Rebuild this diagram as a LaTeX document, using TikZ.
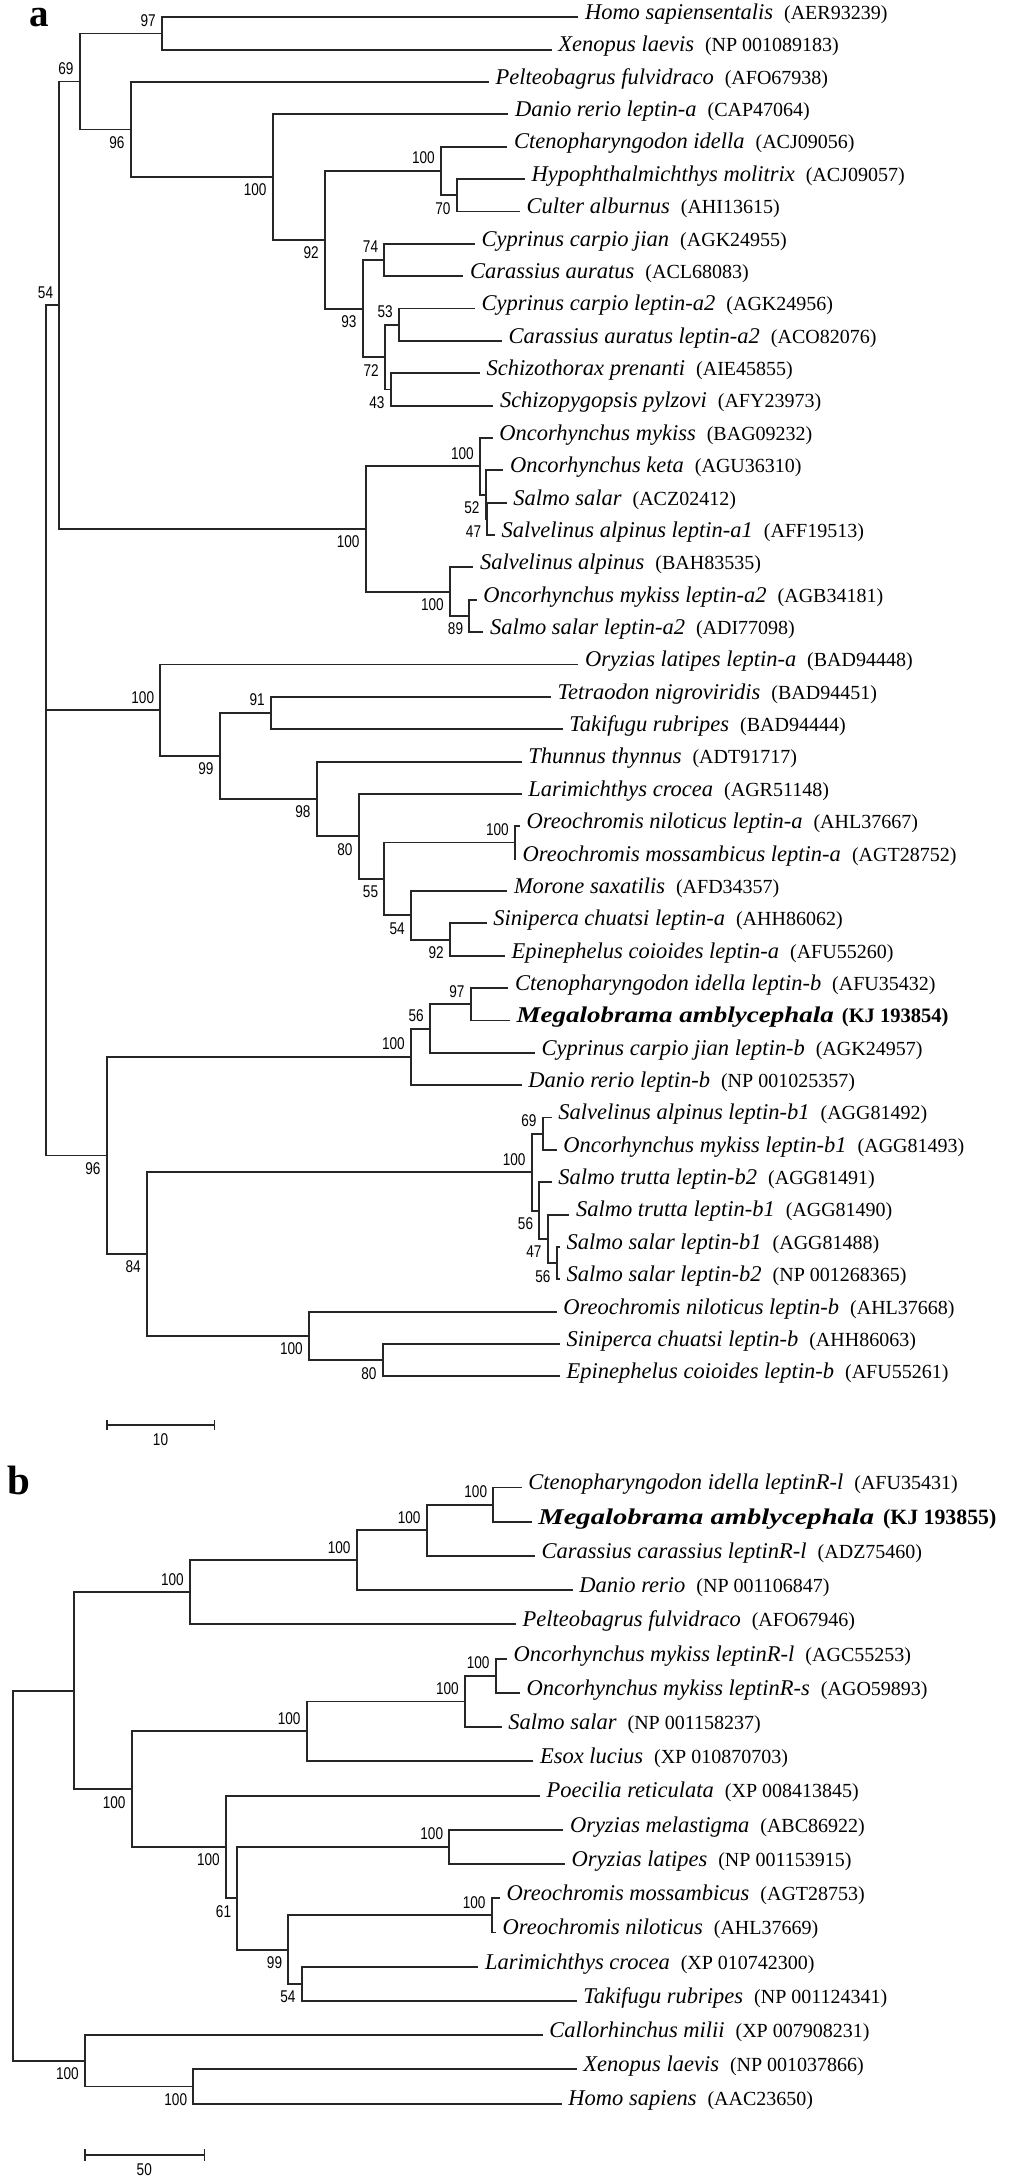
\documentclass[tikz,border=0pt]{standalone}
\usepackage{fontspec}
\usepackage{graphicx}
\setmainfont{Liberation Serif}
\newfontfamily\bsfont{Liberation Sans}
\newcommand\accfont{\fontsize{20}{24}\selectfont\upshape}
\tikzset{
  br/.style={line width=1.9pt, black!85},
  leaflab/.style={anchor=mid west, inner sep=0pt, font=\fontsize{22.5}{27}\selectfont},
  bslab/.style={anchor=east, inner sep=0pt, font=\bsfont\fontsize{17}{19}\selectfont},
  panel/.style={inner sep=0pt, font=\fontsize{39}{42}\selectfont\bfseries},
}
\newcommand\mkleaf[5]{\coordinate (#1) at (#2,#3);
  \node[leaflab] (t#1) at ([xshift=6.5pt]#1) {\textit{#4}\hspace{11pt}{\accfont(#5)}};}
\newcommand\mkint[3]{\coordinate (#1) at (#2,#3);}
\newcommand\conn[2]{\draw[br] (#1) |- (#2);}
\newcommand\bsa[2]{\node[bslab] (l#1) at ([shift={(-6,-13)}]#1) {\scalebox{0.8}[1]{#2}};}
\newcommand\bsb[2]{\node[bslab] (l#1) at ([shift={(-6,13)}]#1) {\scalebox{0.8}[1]{#2}};}
\begin{document}
\begin{tikzpicture}[x=1pt,y=-1pt]
\fill[white] (0,0) rectangle (1024,2181);
\useasboundingbox (0,0) rectangle (1024,2181);
% ---------------- panel a ----------------
\node[panel] (pa) at (38.8,17.5) {a};
\mkleaf{L0}{578.3}{17.3}{Homo sapiensentalis}{AER93239}
\mkleaf{L1}{551.7}{49.7}{Xenopus laevis}{NP 001089183}
\mkleaf{L2}{489}{82.0}{Pelteobagrus fulvidraco}{AFO67938}
\mkleaf{L3}{508.3}{114.4}{Danio rerio leptin-a}{CAP47064}
\mkleaf{L4}{507.3}{146.7}{Ctenopharyngodon idella}{ACJ09056}
\mkleaf{L5}{525}{179.1}{Hypophthalmichthys molitrix}{ACJ09057}
\mkleaf{L6}{520}{211.5}{Culter alburnus}{AHI13615}
\mkleaf{L7}{475}{243.8}{Cyprinus carpio jian}{AGK24955}
\mkleaf{L8}{463.3}{276.2}{Carassius auratus}{ACL68083}
\mkleaf{L9}{475}{308.5}{Cyprinus carpio leptin-a2}{AGK24956}
\mkleaf{L10}{502}{340.9}{Carassius auratus leptin-a2}{ACO82076}
\mkleaf{L11}{480}{373.3}{Schizothorax prenanti}{AIE45855}
\mkleaf{L12}{493.3}{405.6}{Schizopygopsis pylzovi}{AFY23973}
\mkleaf{L13}{492.7}{438.0}{Oncorhynchus mykiss}{BAG09232}
\mkleaf{L14}{503.3}{470.3}{Oncorhynchus keta}{AGU36310}
\mkleaf{L15}{506.7}{502.7}{Salmo salar}{ACZ02412}
\mkleaf{L16}{495}{535.1}{Salvelinus alpinus leptin-a1}{AFF19513}
\mkleaf{L17}{473.3}{567.4}{Salvelinus alpinus}{BAH83535}
\mkleaf{L18}{476.7}{599.8}{Oncorhynchus mykiss leptin-a2}{AGB34181}
\mkleaf{L19}{483.3}{632.1}{Salmo salar leptin-a2}{ADI77098}
\mkleaf{L20}{578.3}{664.5}{Oryzias latipes leptin-a}{BAD94448}
\mkleaf{L21}{551}{696.9}{Tetraodon nigroviridis}{BAD94451}
\mkleaf{L22}{562.7}{729.2}{Takifugu rubripes}{BAD94444}
\mkleaf{L23}{521.7}{761.6}{Thunnus thynnus}{ADT91717}
\mkleaf{L24}{521.7}{793.9}{Larimichthys crocea}{AGR51148}
\mkleaf{L25}{520}{826.3}{Oreochromis niloticus leptin-a}{AHL37667}
\mkleaf{L26}{516}{858.7}{Oreochromis mossambicus leptin-a}{AGT28752}
\mkleaf{L27}{507.3}{891.0}{Morone saxatilis}{AFD34357}
\mkleaf{L28}{486.7}{923.4}{Siniperca chuatsi leptin-a}{AHH86062}
\mkleaf{L29}{505}{955.7}{Epinephelus coioides leptin-a}{AFU55260}
\mkleaf{L30}{508.3}{988.1}{Ctenopharyngodon idella leptin-b}{AFU35432}
\coordinate (L31) at (510,1020.5);
\node[leaflab] (tL31) at ([xshift=6.5pt]L31) {\scalebox{1.2}[1]{\bfseries\itshape Megalobrama amblycephala}\hspace{8pt}{\fontsize{20.5}{24}\selectfont\bfseries (KJ 193854)}};
\mkleaf{L32}{535}{1052.8}{Cyprinus carpio jian leptin-b}{AGK24957}
\mkleaf{L33}{521.7}{1085.2}{Danio rerio leptin-b}{NP 001025357}
\mkleaf{L34}{551.7}{1117.5}{Salvelinus alpinus leptin-b1}{AGG81492}
\mkleaf{L35}{556.7}{1149.9}{Oncorhynchus mykiss leptin-b1}{AGG81493}
\mkleaf{L36}{551.7}{1182.3}{Salmo trutta leptin-b2}{AGG81491}
\mkleaf{L37}{569.3}{1214.6}{Salmo trutta leptin-b1}{AGG81490}
\mkleaf{L38}{560}{1247.0}{Salmo salar leptin-b1}{AGG81488}
\mkleaf{L39}{560}{1279.3}{Salmo salar leptin-b2}{NP 001268365}
\mkleaf{L40}{556.7}{1311.7}{Oreochromis niloticus leptin-b}{AHL37668}
\mkleaf{L41}{560}{1344.1}{Siniperca chuatsi leptin-b}{AHH86063}
\mkleaf{L42}{560}{1376.4}{Epinephelus coioides leptin-b}{AFU55261}
% internal nodes a
\mkint{RA}{45.7}{710.25}
\mkint{A54}{59.3}{305.25}
\mkint{A69}{79.7}{81.5}
\mkint{A97}{162}{33.5}
\mkint{A96t}{130.7}{129.55}
\mkint{A100a}{272.7}{177.1}
\mkint{A92}{325}{239.8}
\mkint{A100b}{441}{171.0}
\mkint{A70}{456.7}{195.3}
\mkint{A93}{362.7}{308.55}
\mkint{A74}{384.3}{260.0}
\mkint{A72}{385}{357.1}
\mkint{A53}{399}{324.7}
\mkint{A43}{390.7}{389.45}
\mkint{A100e}{365.7}{529.0}
\mkint{A100c}{480}{466.3}
\mkint{A52}{485.7}{494.6}
\mkint{A47a}{487.3}{518.9}
\mkint{A100d}{450}{591.7}
\mkint{A89}{469.3}{615.95}
\mkint{A100g}{160.3}{710.25}
\mkint{A99}{219.7}{756.0}
\mkint{A91}{271}{713.05}
\mkint{A98}{316.7}{799.0}
\mkint{A80}{358.7}{836.4}
\mkint{A55}{384.3}{878.9}
\mkint{A100f}{515}{842.5}
\mkint{A54b}{411}{915.3}
\mkint{A92b}{450}{939.55}
\mkint{A96b}{106.7}{1155.5}
\mkint{A100h}{411}{1056.9}
\mkint{A56}{430}{1028.55}
\mkint{A97b}{470.7}{1004.3}
\mkint{A84}{147}{1254.1}
\mkint{A100i}{531.7}{1172.15}
\mkint{A69b}{542.7}{1133.7}
\mkint{A56b}{539.3}{1210.6}
\mkint{A47b}{547.7}{1238.9}
\mkint{A56c}{556.7}{1263.15}
\mkint{A100j}{309}{1336.0}
\mkint{A80b}{382.7}{1360.25}
% connectors a
\conn{RA}{A54}\conn{RA}{A100g}\conn{RA}{A96b}
\conn{A54}{A69}\conn{A54}{A100e}
\conn{A69}{A97}\conn{A69}{A96t}
\conn{A97}{L0}\conn{A97}{L1}
\conn{A96t}{L2}\conn{A96t}{A100a}
\conn{A100a}{L3}\conn{A100a}{A92}
\conn{A92}{A100b}\conn{A92}{A93}
\conn{A100b}{L4}\conn{A100b}{A70}
\conn{A70}{L5}\conn{A70}{L6}
\conn{A93}{A74}\conn{A93}{A72}
\conn{A74}{L7}\conn{A74}{L8}
\conn{A72}{A53}\conn{A72}{A43}
\conn{A53}{L9}\conn{A53}{L10}
\conn{A43}{L11}\conn{A43}{L12}
\conn{A100e}{A100c}\conn{A100e}{A100d}
\conn{A100c}{L13}\conn{A100c}{A52}
\conn{A52}{L14}\conn{A52}{A47a}
\conn{A47a}{L15}\conn{A47a}{L16}
\conn{A100d}{L17}\conn{A100d}{A89}
\conn{A89}{L18}\conn{A89}{L19}
\conn{A100g}{L20}\conn{A100g}{A99}
\conn{A99}{A91}\conn{A99}{A98}
\conn{A91}{L21}\conn{A91}{L22}
\conn{A98}{L23}\conn{A98}{A80}
\conn{A80}{L24}\conn{A80}{A55}
\conn{A55}{A100f}\conn{A55}{A54b}
\conn{A100f}{L25}\conn{A100f}{L26}
\conn{A54b}{L27}\conn{A54b}{A92b}
\conn{A92b}{L28}\conn{A92b}{L29}
\conn{A96b}{A100h}\conn{A96b}{A84}
\conn{A100h}{A56}\conn{A100h}{L33}
\conn{A56}{A97b}\conn{A56}{L32}
\conn{A97b}{L30}\conn{A97b}{L31}
\conn{A84}{A100i}\conn{A84}{A100j}
\conn{A100i}{A69b}\conn{A100i}{A56b}
\conn{A69b}{L34}\conn{A69b}{L35}
\conn{A56b}{L36}\conn{A56b}{A47b}
\conn{A47b}{L37}\conn{A47b}{A56c}
\conn{A56c}{L38}\conn{A56c}{L39}
\conn{A100j}{L40}\conn{A100j}{A80b}
\conn{A80b}{L41}\conn{A80b}{L42}
% bootstrap a
\bsa{A54}{54}\bsa{A69}{69}\bsa{A97}{97}\bsb{A96t}{96}\bsb{A100a}{100}
\bsb{A92}{92}\bsa{A100b}{100}\bsb{A70}{70}\bsb{A93}{93}\bsa{A74}{74}
\bsb{A72}{72}\bsa{A53}{53}\bsb{A43}{43}\bsb{A100e}{100}\bsa{A100c}{100}
\bsb{A52}{52}\bsb{A47a}{47}\bsb{A100d}{100}\bsb{A89}{89}\bsa{A100g}{100}
\bsb{A99}{99}\bsa{A91}{91}\bsb{A98}{98}\bsb{A80}{80}\bsb{A55}{55}
\bsa{A100f}{100}\bsb{A54b}{54}\bsb{A92b}{92}\bsb{A96b}{96}\bsa{A100h}{100}
\bsa{A56}{56}\bsa{A97b}{97}\bsb{A84}{84}\bsa{A100i}{100}\bsa{A69b}{69}
\bsb{A56b}{56}\bsb{A47b}{47}\bsb{A56c}{56}\bsb{A100j}{100}\bsb{A80b}{80}
% scale bar a
\coordinate (sa1) at (106.7,1425);
\coordinate (sa2) at (214.3,1425);
\draw[br,line width=1.6pt] (sa1) -- (sa2);
\draw[br,line width=1.6pt] ([yshift=5.3pt]sa1) -- ([yshift=-5.3pt]sa1);
\draw[br,line width=1.6pt] ([yshift=5.3pt]sa2) -- ([yshift=-5.3pt]sa2);
\node[bslab,anchor=center] (lsa) at (160.5,1439.5) {\scalebox{0.8}[1]{10}};
% ---------------- panel b ----------------
\node[panel,font=\fontsize{41}{44}\selectfont\bfseries] (pb) at (18.7,1480) {b};
\mkleaf{b0}{521.7}{1487.5}{Ctenopharyngodon idella leptinR-l}{AFU35431}
\coordinate (b1) at (531.7,1521.7);
\node[leaflab] (tb1) at ([xshift=6.5pt]b1) {\scalebox{1.27}[1]{\bfseries\itshape Megalobrama amblycephala}\hspace{9pt}{\fontsize{21.8}{25}\selectfont\bfseries (KJ 193855)}};
\mkleaf{b2}{535}{1556.0}{Carassius carassius leptinR-l}{ADZ75460}
\mkleaf{b3}{572.7}{1590.2}{Danio rerio}{NP 001106847}
\mkleaf{b4}{516}{1624.4}{Pelteobagrus fulvidraco}{AFO67946}
\mkleaf{b5}{507}{1658.7}{Oncorhynchus mykiss leptinR-l}{AGC55253}
\mkleaf{b6}{520}{1692.9}{Oncorhynchus mykiss leptinR-s}{AGO59893}
\mkleaf{b7}{501.7}{1727.1}{Salmo salar}{NP 001158237}
\mkleaf{b8}{533.3}{1761.3}{Esox lucius}{XP 010870703}
\mkleaf{b9}{540}{1795.6}{Poecilia reticulata}{XP 008413845}
\mkleaf{b10}{563.3}{1829.8}{Oryzias melastigma}{ABC86922}
\mkleaf{b11}{565}{1864.0}{Oryzias latipes}{NP 001153915}
\mkleaf{b12}{500}{1898.3}{Oreochromis mossambicus}{AGT28753}
\mkleaf{b13}{496}{1932.5}{Oreochromis niloticus}{AHL37669}
\mkleaf{b14}{478.3}{1966.7}{Larimichthys crocea}{XP 010742300}
\mkleaf{b15}{576.7}{2001.0}{Takifugu rubripes}{NP 001124341}
\mkleaf{b16}{542.7}{2035.2}{Callorhinchus milii}{XP 007908231}
\mkleaf{b17}{576.7}{2069.4}{Xenopus laevis}{NP 001037866}
\mkleaf{b18}{561.7}{2103.6}{Homo sapiens}{AAC23650}
% internal nodes b
\mkint{RB}{13.3}{1875.8}
\mkint{B100o}{74}{1690.7}
\mkint{B100d}{190}{1592.3}
\mkint{B100c}{356.7}{1560.25}
\mkint{B100b}{426.7}{1530.3}
\mkint{B100a}{493.3}{1504.6}
\mkint{B100n}{131.7}{1789.15}
\mkint{B100g}{306.7}{1731.4}
\mkint{B100f}{465}{1701.45}
\mkint{B100e}{495.7}{1675.8}
\mkint{B100m}{226}{1846.9}
\mkint{B61}{237.3}{1898.25}
\mkint{B100k}{449.3}{1846.9}
\mkint{B99}{288.3}{1949.6}
\mkint{B100l}{491.7}{1915.4}
\mkint{B54}{301.7}{1983.85}
\mkint{B100p}{85}{2060.85}
\mkint{B100q}{193.3}{2086.5}
% connectors b
\conn{RB}{B100o}\conn{RB}{B100p}
\conn{B100o}{B100d}\conn{B100o}{B100n}
\conn{B100d}{B100c}\conn{B100d}{b4}
\conn{B100c}{B100b}\conn{B100c}{b3}
\conn{B100b}{B100a}\conn{B100b}{b2}
\conn{B100a}{b0}\conn{B100a}{b1}
\conn{B100n}{B100g}\conn{B100n}{B100m}
\conn{B100g}{B100f}\conn{B100g}{b8}
\conn{B100f}{B100e}\conn{B100f}{b7}
\conn{B100e}{b5}\conn{B100e}{b6}
\conn{B100m}{b9}\conn{B100m}{B61}
\conn{B61}{B100k}\conn{B61}{B99}
\conn{B100k}{b10}\conn{B100k}{b11}
\conn{B99}{B100l}\conn{B99}{B54}
\conn{B100l}{b12}\conn{B100l}{b13}
\conn{B54}{b14}\conn{B54}{b15}
\conn{B100p}{b16}\conn{B100p}{B100q}
\conn{B100q}{b17}\conn{B100q}{b18}
% bootstrap b
\bsa{B100a}{100}\bsa{B100b}{100}\bsa{B100c}{100}\bsa{B100d}{100}
\bsa{B100e}{100}\bsa{B100f}{100}\bsa{B100g}{100}\bsa{B100k}{100}
\bsa{B100l}{100}\bsb{B54}{54}\bsb{B99}{99}\bsb{B61}{61}\bsb{B100m}{100}
\bsb{B100n}{100}\bsb{B100q}{100}\bsb{B100p}{100}
% scale bar b
\coordinate (sb1) at (85,2155);
\coordinate (sb2) at (204.3,2155);
\draw[br,line width=1.6pt] (sb1) -- (sb2);
\draw[br,line width=1.6pt] ([yshift=6pt]sb1) -- ([yshift=-6pt]sb1);
\draw[br,line width=1.6pt] ([yshift=6pt]sb2) -- ([yshift=-6pt]sb2);
\node[bslab,anchor=center] (lsb) at (144.3,2169.3) {\scalebox{0.8}[1]{50}};
\end{tikzpicture}
\end{document}
